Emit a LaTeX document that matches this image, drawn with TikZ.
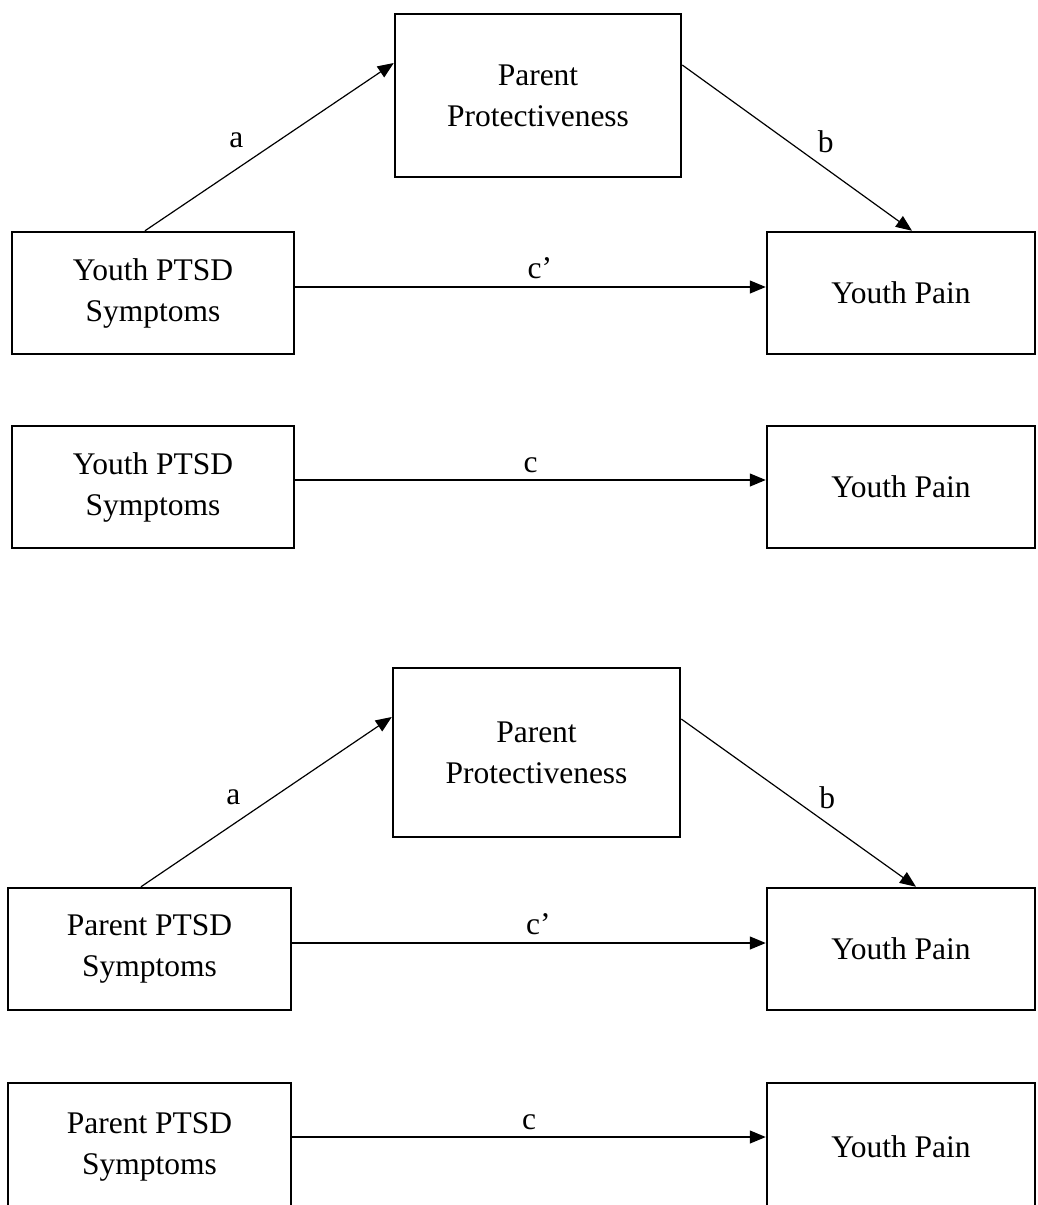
\documentclass[tikz,border=0pt]{standalone}
\usepackage{fontspec}
\setmainfont{Liberation Serif}
\usetikzlibrary{arrows.meta}
\begin{document}
\begin{tikzpicture}[x=1pt,y=-1pt,
  every node/.style={font=\fontsize{31.5}{41}\selectfont},
  box/.style={draw, line width=2.5pt, inner sep=0pt, align=center},
  conn/.style={line width=1.2pt, -{Triangle[length=16pt,width=13pt]}},
  lbl/.style={anchor=base, inner sep=0pt}]
\fill[white] (0,0) rectangle (1037,1205);
\useasboundingbox (0,0) rectangle (1037,1205);
\clip (0,0) rectangle (1037,1205);
% Panel 1
\node[box, minimum width=282pt, minimum height=122pt] (yp1) at (153,293) {Youth PTSD\\Symptoms};
\node[box, minimum width=286pt, minimum height=163pt] (pp1) at (538,95.5) {Parent\\Protectiveness};
\node[box, minimum width=268pt, minimum height=122pt] (yn1) at (901,293) {Youth Pain};
\draw[conn] ([xshift=-8pt]yp1.north) -- node[lbl, xshift=-33pt, yshift=-1pt] {a} ([yshift=32.5pt]pp1.west);
\draw[conn] ([yshift=30.5pt]pp1.east) -- node[lbl, xshift=28.5pt, yshift=-4.5pt] {b} ([xshift=11pt]yn1.north);
\draw[conn] ([yshift=6pt]yp1.east) -- node[lbl, pos=0.52, yshift=9pt] {c’} ([yshift=6pt]yn1.west);
% Panel 2
\node[box, minimum width=282pt, minimum height=122pt] (yp2) at (153,487) {Youth PTSD\\Symptoms};
\node[box, minimum width=268pt, minimum height=122pt] (yn2) at (901,487) {Youth Pain};
\draw[conn] ([yshift=7pt]yp2.east) -- node[lbl, yshift=8pt] {c} ([yshift=7pt]yn2.west);
% Panel 3
\node[box, minimum width=287pt, minimum height=169pt] (pp3) at (536.5,752.5) {Parent\\Protectiveness};
\node[box, minimum width=283pt, minimum height=122pt] (pt3) at (149.5,949) {Parent PTSD\\Symptoms};
\node[box, minimum width=268pt, minimum height=122pt] (yn3) at (901,949) {Youth Pain};
\draw[conn] ([xshift=-8.5pt]pt3.north) -- node[lbl, xshift=-33pt, yshift=-2.5pt] {a} ([yshift=35.5pt]pp3.west);
\draw[conn] ([yshift=33.5pt]pp3.east) -- node[lbl, xshift=28.5pt, yshift=-5.5pt] {b} ([xshift=15pt]yn3.north);
\draw[conn] ([yshift=6pt]pt3.east) -- node[lbl, pos=0.52, yshift=9pt] {c’} ([yshift=6pt]yn3.west);
% Panel 4
\node[box, minimum width=283pt, minimum height=127pt] (pt4) at (149.5,1146.5) {Parent PTSD\\Symptoms};
\node[box, minimum width=268pt, minimum height=127pt] (yn4) at (901,1146.5) {Youth Pain};
\draw[conn] ([yshift=9.5pt]pt4.east) -- node[lbl, yshift=8pt] {c} ([yshift=9.5pt]yn4.west);
\end{tikzpicture}
\end{document}
